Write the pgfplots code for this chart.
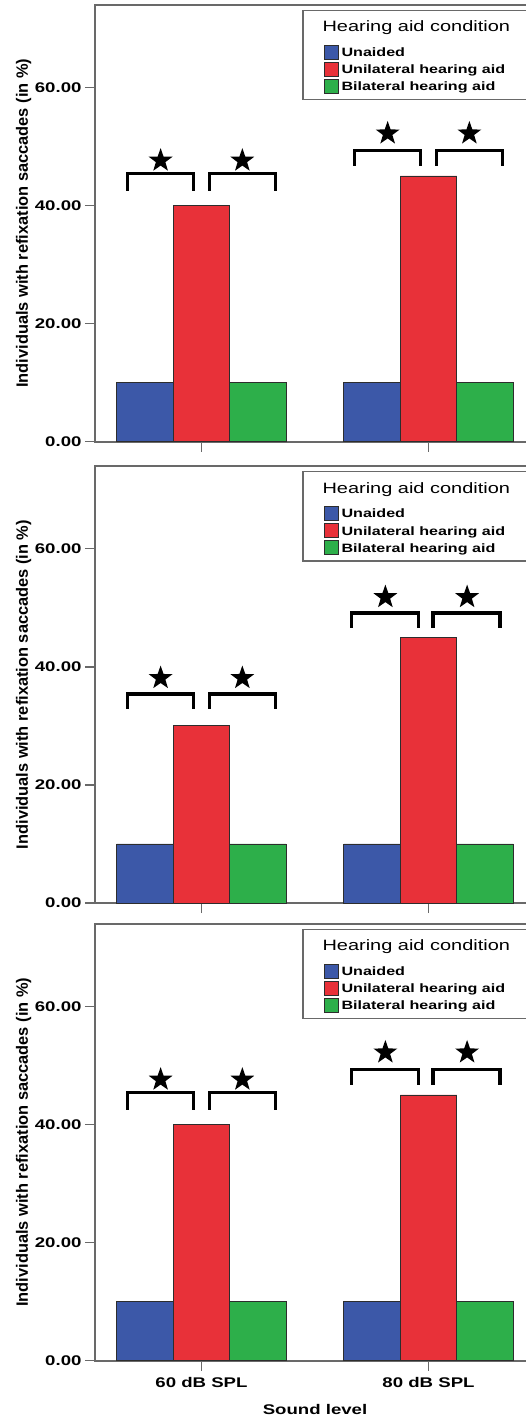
\documentclass[border=0pt]{standalone}
\usepackage{fontspec}
\setmainfont{Liberation Sans}
\newfontfamily\widefont{Liberation Sans}[FakeStretch=1.33]
\usepackage{pgfplots}
\pgfplotsset{compat=1.18}
\usetikzlibrary{shapes.geometric}

\definecolor{cblue}{RGB}{60,88,168}
\definecolor{cred}{RGB}{232,49,57}
\definecolor{cgreen}{RGB}{45,175,74}
\definecolor{edge}{RGB}{45,45,45}
\definecolor{axgray}{RGB}{105,105,105}

\pgfdeclareplotmark{fstar}{\node[star,star points=5,star point ratio=2.5,fill=black,draw=none,inner sep=0pt,minimum size=25pt]{};}

\newcommand{\tfont}{\widefont\mdseries\fontsize{15}{15}\selectfont}
\newcommand{\efont}{\widefont\bfseries\fontsize{12.1}{12.1}\selectfont}

\pgfplotsset{
  barsq/.style={legend image code/.code={\draw[##1,line width=0.8pt] (0pt,-2.8pt) rectangle (14pt,11.2pt);}},
  bracket/.style={black, line width=3.5pt, line cap=butt, line join=miter, mark=none, forget plot},
  stars/.style={only marks, mark=fstar, forget plot},
  panel/.style={
    scale only axis, width=440pt, height=437pt,
    xmin=-0.469, xmax=1.469, ymin=0, ymax=74,
    axis line style={draw=axgray, line width=2pt},
    xtick={0,1}, ytick={0,20,40,60},
    xtick pos=left, ytick pos=left,
    tick align=outside, major tick length=10pt,
    tick style={draw=axgray, line width=1.5pt},
    yticklabel style={font=\widefont\bfseries\fontsize{14}{14}\selectfont},
    /pgf/number format/fixed, /pgf/number format/fixed zerofill,
    /pgf/number format/precision=2, /pgf/number format/assume math mode=true,
    xticklabel style={font=\widefont\bfseries\fontsize{14}{14}\selectfont, yshift=-3pt},
    ylabel={Individuals with refixation saccades (in \%)},
    ylabel style={font=\bfseries\fontsize{16.4}{16.4}\selectfont, at={(axis description cs:-0.1523,0.5)}, anchor=base, inner sep=0pt},
    legend style={at={(axis description cs:0.4705,0.9886)}, anchor=north west,
      draw=axgray, line width=1.5pt, inner xsep=21pt, inner ysep=0pt,
      row sep=0pt, column sep=3pt, font=\efont,
      nodes={inner sep=0pt, text height=12.8pt, text depth=4.3pt},
      cells={anchor=base west}},
  }
}

\newcommand{\legtext}{%
  \addlegendentry[text height=21.4pt, text depth=12pt]{\hspace*{-19pt}\tfont Hearing aid condition}%
  \addlegendentry{Unaided}%
  \addlegendentry{Unilateral hearing aid}%
  \addlegendentry[text height=12.7pt, text depth=8.8pt]{Bilateral hearing aid}}

\begin{document}
\begin{tikzpicture}
\useasboundingbox (0,0) rectangle (526pt,-1422pt);
\clip (0,0) rectangle (526pt,-1422pt);

% ---------- Panel 1 ----------
\begin{axis}[panel, at={(95pt,-441.7pt)}, anchor=south west, xticklabels={}]
\addlegendimage{empty legend}
\addplot[ybar, bar width=56.5pt, bar shift=-56.5pt, fill=cblue, draw=edge, line width=0.8pt, barsq, forget plot] coordinates {(0,10) (1,10)};
\addplot[ybar, bar width=56.5pt, bar shift=0pt, fill=cred, draw=edge, line width=0.8pt, barsq, forget plot] coordinates {(0,40) (1,45)};
\addplot[ybar, bar width=56.5pt, bar shift=56.5pt, fill=cgreen, draw=edge, line width=0.8pt, barsq, forget plot] coordinates {(0,10) (1,10)};
\addlegendimage{ybar, fill=cblue, draw=edge, barsq}
\addlegendimage{ybar, fill=cred, draw=edge, barsq}
\addlegendimage{ybar, fill=cgreen, draw=edge, barsq}
\addplot[bracket] coordinates {(-0.325,42.5) (-0.325,45.4) (-0.035,45.4) (-0.035,42.5)};
\addplot[bracket] coordinates {(0.035,42.5) (0.035,45.4) (0.325,45.4) (0.325,42.5)};
\addplot[bracket] coordinates {(0.675,46.7) (0.675,49.3) (0.965,49.3) (0.965,46.7)};
\addplot[bracket] coordinates {(1.035,46.7) (1.035,49.3) (1.325,49.3) (1.325,46.7)};
\addplot[stars] coordinates {(-0.18,47.6) (0.18,47.6) (0.82,52.2) (1.18,52.2)};
\legtext
\end{axis}

% ---------- Panel 2 ----------
\begin{axis}[panel, at={(95pt,-903pt)}, anchor=south west, xticklabels={}]
\addlegendimage{empty legend}
\addplot[ybar, bar width=56.5pt, bar shift=-56.5pt, fill=cblue, draw=edge, line width=0.8pt, barsq, forget plot] coordinates {(0,10) (1,10)};
\addplot[ybar, bar width=56.5pt, bar shift=0pt, fill=cred, draw=edge, line width=0.8pt, barsq, forget plot] coordinates {(0,30) (1,45)};
\addplot[ybar, bar width=56.5pt, bar shift=56.5pt, fill=cgreen, draw=edge, line width=0.8pt, barsq, forget plot] coordinates {(0,10) (1,10)};
\addlegendimage{ybar, fill=cblue, draw=edge, barsq}
\addlegendimage{ybar, fill=cred, draw=edge, barsq}
\addlegendimage{ybar, fill=cgreen, draw=edge, barsq}
\addplot[bracket] coordinates {(-0.325,32.9) (-0.325,35.4) (-0.035,35.4) (-0.035,32.9)};
\addplot[bracket] coordinates {(0.035,32.9) (0.035,35.4) (0.325,35.4) (0.325,32.9)};
\addplot[bracket] coordinates {(0.66,46.6) (0.66,49.1) (0.955,49.1) (0.955,46.6)};
\addplot[bracket] coordinates {(1.02,46.6) (1.02,49.1) (1.315,49.1) (1.315,46.6)};
\addplot[stars] coordinates {(-0.18,38.1) (0.18,38.1) (0.81,51.8) (1.17,51.8)};
\legtext
\end{axis}

% ---------- Panel 3 ----------
\begin{axis}[panel, at={(95pt,-1360.7pt)}, anchor=south west,
  xticklabels={60 dB SPL, 80 dB SPL},
  xlabel={Sound level},
  xlabel style={font=\widefont\bfseries\fontsize{14}{14}\selectfont, at={(axis description cs:0.5,-0.124)}, anchor=base, inner sep=0pt}]
\addlegendimage{empty legend}
\addplot[ybar, bar width=56.5pt, bar shift=-56.5pt, fill=cblue, draw=edge, line width=0.8pt, barsq, forget plot] coordinates {(0,10) (1,10)};
\addplot[ybar, bar width=56.5pt, bar shift=0pt, fill=cred, draw=edge, line width=0.8pt, barsq, forget plot] coordinates {(0,40) (1,45)};
\addplot[ybar, bar width=56.5pt, bar shift=56.5pt, fill=cgreen, draw=edge, line width=0.8pt, barsq, forget plot] coordinates {(0,10) (1,10)};
\addlegendimage{ybar, fill=cblue, draw=edge, barsq}
\addlegendimage{ybar, fill=cred, draw=edge, barsq}
\addlegendimage{ybar, fill=cgreen, draw=edge, barsq}
\addplot[bracket] coordinates {(-0.325,42.5) (-0.325,45.4) (-0.035,45.4) (-0.035,42.5)};
\addplot[bracket] coordinates {(0.035,42.5) (0.035,45.4) (0.325,45.4) (0.325,42.5)};
\addplot[bracket] coordinates {(0.66,46.7) (0.66,49.3) (0.955,49.3) (0.955,46.7)};
\addplot[bracket] coordinates {(1.02,46.7) (1.02,49.3) (1.315,49.3) (1.315,46.7)};
\addplot[stars] coordinates {(-0.18,47.6) (0.18,47.6) (0.81,52.2) (1.17,52.2)};
\legtext
\end{axis}
\end{tikzpicture}
\end{document}
